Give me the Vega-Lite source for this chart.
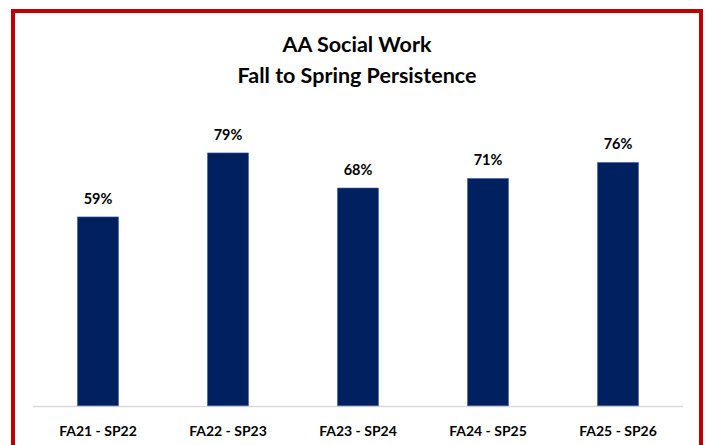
{
  "$schema": "https://vega.github.io/schema/vega-lite/v6.json",
  "autosize": "none",
  "width": 688,
  "height": 440,
  "padding": {"left": 13, "top": 11, "right": 6, "bottom": 0},
  "background": "white",
  "config": {
    "view": {"stroke": "#C00000", "strokeWidth": 4},
    "font": "Lato"
  },
  "title": {
    "text": ["AA Social Work", "Fall to Spring Persistence"],
    "font": "Lato",
    "fontSize": 21.5,
    "fontWeight": "bold",
    "color": "#000000",
    "lineHeight": 31,
    "anchor": "middle",
    "baseline": "alphabetic",
    "offset": -93
  },
  "data": {
    "values": [
      {"term": "FA21 - SP22", "rate": 0.59},
      {"term": "FA22 - SP23", "rate": 0.79},
      {"term": "FA23 - SP24", "rate": 0.68},
      {"term": "FA24 - SP25", "rate": 0.71},
      {"term": "FA25 - SP26", "rate": 0.76}
    ]
  },
  "encoding": {
    "x": {
      "field": "term",
      "type": "nominal",
      "sort": null,
      "axis": null,
      "scale": {"paddingInner": 0, "paddingOuter": 0.146, "align": 0.526}
    }
  },
  "layer": [
    {
      "mark": {"type": "bar", "color": "#d9d9d9", "width": {"band": 1}},
      "encoding": {
        "y": {"datum": 0, "type": "quantitative", "axis": null,
              "scale": {"domain": [-0.1416, 1.2334], "nice": false, "zero": false}},
        "y2": {"datum": -0.005}
      }
    },
    {
      "mark": {"type": "bar", "color": "#002060", "stroke": "#3b5a9a", "strokeWidth": 0.6, "width": {"band": 0.315}},
      "encoding": {
        "y": {"field": "rate", "type": "quantitative"},
        "y2": {"datum": 0}
      }
    },
    {
      "mark": {"type": "text", "font": "Lato", "fontSize": 14.5, "fontWeight": "bold", "color": "#000000", "baseline": "alphabetic", "dy": -13},
      "encoding": {
        "y": {"field": "rate", "type": "quantitative"},
        "text": {"field": "rate", "type": "quantitative", "format": ".0%"}
      }
    },
    {
      "mark": {"type": "text", "font": "Lato", "fontSize": 14, "fontWeight": "bold", "color": "#000000", "baseline": "alphabetic", "dy": 30},
      "encoding": {
        "y": {"datum": 0, "type": "quantitative"},
        "text": {"field": "term", "type": "nominal"}
      }
    }
  ]
}
